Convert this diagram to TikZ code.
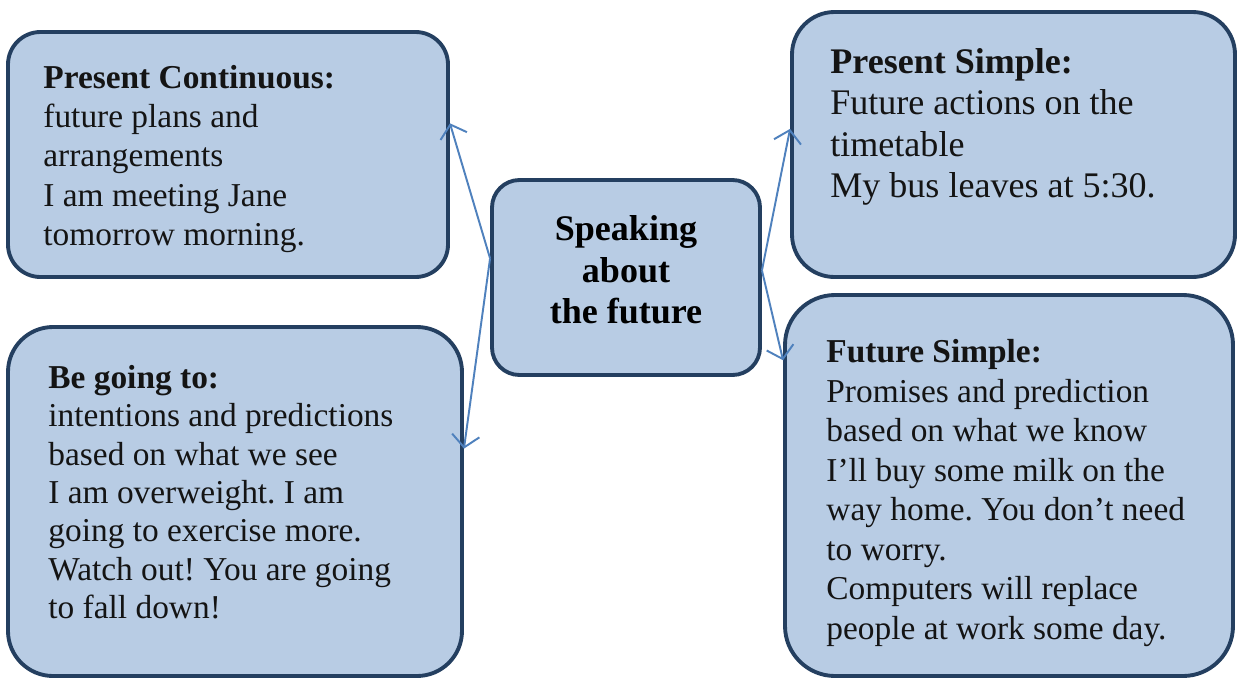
\documentclass[tikz,border=0pt]{standalone}
\usepackage{fontspec}
\setmainfont{Liberation Serif}
\usepackage{tikz}
\usetikzlibrary{arrows.meta, positioning}
\definecolor{BoxFill}{HTML}{B8CCE4}
\definecolor{BoxEdge}{HTML}{243F60}
\definecolor{LinkBlue}{HTML}{4F81BD}
\frenchspacing

\begin{document}
\begin{tikzpicture}[
    box/.style={draw=BoxEdge, line width=2.2pt, fill=BoxFill, rounded corners=0.8cm,
                inner sep=0pt},
    boxtext/.style={anchor=north west, inner sep=0pt, align=left, text=black!92,
                    font=\fontsize{19}{22.3}\selectfont},
    link/.style={draw=LinkBlue, line width=1.1pt,
                 -{Straight Barb[length=2.4mm, width=5.5mm]}}
]
\useasboundingbox (0,0) rectangle (24.74,-13.56);
\fill[white] (0,0) rectangle (24.74,-13.56);

% centre box
\node[box, rounded corners=0.55cm, minimum width=5.36cm, minimum height=3.9cm,
      align=center, text depth=0.32cm, font=\fontsize{20.5}{23.8}\selectfont\bfseries]
      (mid) at (12.52,-5.55) {Speaking\\about\\the future};

% the four tenses
\node[box, rounded corners=0.65cm, minimum width=8.8cm, minimum height=4.9cm]
      (pc) at (4.56,-3.09) {};
\node[box, rounded corners=0.85cm, minimum width=8.86cm, minimum height=5.3cm]
      (ps) at (20.27,-2.89) {};
\node[box, rounded corners=0.9cm, minimum width=9.08cm, minimum height=6.98cm]
      (bg) at (4.7,-10.03) {};
\node[box, rounded corners=1cm, minimum width=8.96cm, minimum height=7.62cm]
      (fs) at (20.18,-9.71) {};

\node[boxtext, below right=0.7cm and 0.74cm of pc.north west] (pctext) {
    \textbf{Present Continuous:}\\
    future plans and\\
    arrangements\\
    I am meeting Jane\\
    tomorrow morning.
};
\node[boxtext, font=\fontsize{20.5}{23.6}\selectfont,
      below right=0.76cm and 0.8cm of ps.north west] (pstext) {
    \textbf{Present Simple:}\\
    Future actions on the\\
    timetable\\
    My bus leaves at 5:30.
};
\node[boxtext, font=\fontsize{19}{21.8}\selectfont,
      below right=0.8cm and 0.84cm of bg.north west] (bgtext) {
    \textbf{Be going to:}\\
    intentions and predictions\\
    based on what we see\\
    I am overweight. I am\\
    going to exercise more.\\
    Watch out! You are going\\
    to fall down!
};
\node[boxtext, font=\fontsize{19}{22.5}\selectfont,
      below right=0.92cm and 0.86cm of fs.north west] (fstext) {
    \textbf{Future Simple:}\\
    Promises and prediction\\
    based on what we know\\
    I’ll buy some milk on the\\
    way home. You don’t need\\
    to worry.\\
    Computers will replace\\
    people at work some day.
};

% arrows out of the centre
\draw[link] (mid.172) -- (pc.8);
\draw[link] (mid.172) -- (bg.13);
\draw[link] (mid.3) -- (ps.176);
\draw[link] (mid.3) -- (fs.151);
\end{tikzpicture}
\end{document}
